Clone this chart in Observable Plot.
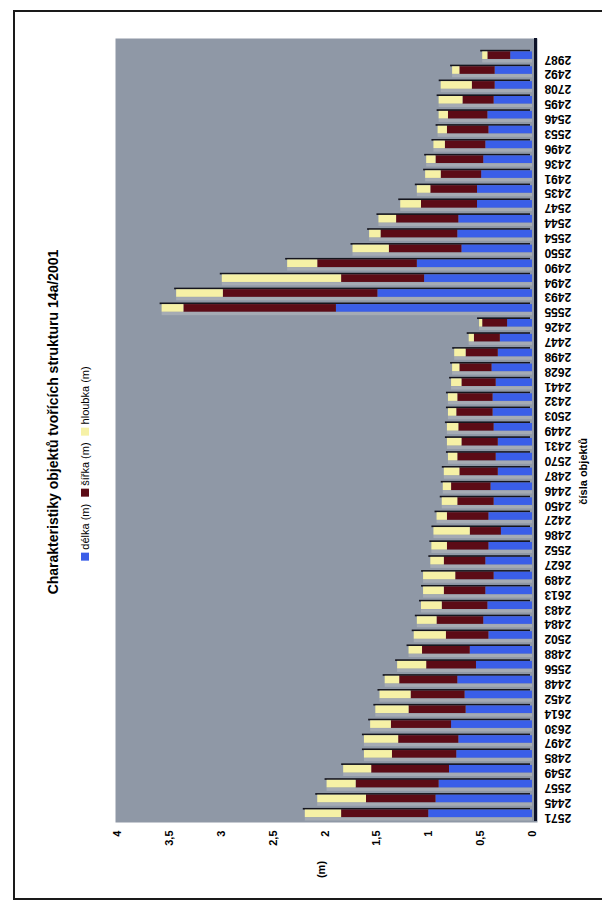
<!DOCTYPE html>
<html><head><meta charset="utf-8">
<script src="https://cdn.jsdelivr.net/npm/d3@7"></script>
<script src="https://cdn.jsdelivr.net/npm/@observablehq/plot@0.6"></script>
<style>
html,body{margin:0;padding:0;background:#fff;}
body{width:602px;height:902px;position:relative;overflow:hidden;font-family:"Liberation Sans",Arial,sans-serif;}
#border{position:absolute;left:13px;top:10px;width:640px;height:886px;border:2px solid #1a1a1a;border-right:none;}
#chart{position:absolute;left:0;top:0;}
.rot{position:absolute;transform:translate(-50%,-50%) rotate(-90deg);white-space:nowrap;color:#000;}
#title{left:53px;top:422px;font-size:14px;font-weight:bold;}
#legend{left:85px;top:460px;font-size:11px;display:flex;align-items:center;}
#legend .sw{display:inline-block;width:8px;height:8px;margin-right:3px;}
#legend .it{display:flex;align-items:center;margin-right:7px;}
</style>
</head><body>
<div id="border"></div>
<div id="chart"></div>
<div id="title" class="rot"></div>
<div id="legend" class="rot"></div>
<script>
const titleText = "Charakteristiky objektů tvořících strukturu 14a/2001";
const xLabel = "čísla objektů";
const yLabel = "(m)";
const seriesNames = ["délka (m)", "šířka (m)", "hloubka (m)"];
const seriesColors = ["#3a5ee8", "#5c0b16", "#f6f1a6"];
const valueTicks = [0, 0.5, 1, 1.5, 2, 2.5, 3, 3.5, 4];

const ids = ["2571","2445","2557","2549","2485","2497","2630","2614","2452","2448",
  "2556","2488","2502","2484","2483","2613","2489","2627","2552","2486",
  "2427","2450","2446","2487","2570","2431","2449","2503","2432","2441",
  "2628","2498","2447","2426","2555","2493","2494","2490","2550","2554",
  "2544","2547","2435","2491","2436","2496","2553","2546","2495","2708",
  "2492","2987"];
const delka = [1.00,0.93,0.90,0.80,0.73,0.71,0.78,0.64,0.65,0.72,
  0.54,0.60,0.42,0.47,0.43,0.45,0.37,0.45,0.42,0.30,
  0.42,0.37,0.40,0.33,0.35,0.33,0.37,0.38,0.38,0.35,
  0.39,0.33,0.31,0.24,1.89,1.49,1.04,1.11,0.68,0.72,
  0.71,0.53,0.53,0.49,0.47,0.45,0.42,0.43,0.37,0.36,
  0.36,0.21];
const sirka = [0.84,0.67,0.80,0.75,0.62,0.58,0.58,0.55,0.52,0.56,
  0.48,0.46,0.41,0.45,0.44,0.40,0.37,0.40,0.40,0.30,
  0.40,0.35,0.38,0.37,0.37,0.35,0.34,0.35,0.34,0.33,
  0.31,0.31,0.25,0.24,1.47,1.49,0.80,0.96,0.70,0.74,
  0.60,0.54,0.45,0.39,0.46,0.39,0.40,0.38,0.30,0.22,
  0.34,0.22];
const hloubka = [0.35,0.47,0.28,0.27,0.27,0.33,0.20,0.32,0.30,0.14,
  0.28,0.13,0.31,0.19,0.20,0.20,0.31,0.13,0.15,0.35,
  0.10,0.15,0.08,0.15,0.09,0.14,0.11,0.08,0.09,0.10,
  0.07,0.11,0.05,0.03,0.21,0.45,1.15,0.29,0.35,0.11,
  0.17,0.20,0.13,0.15,0.09,0.11,0.09,0.09,0.23,0.30,
  0.07,0.05];

const seriesArrays = [delka, sirka, hloubka];
const long = [];
ids.forEach((id, i) => seriesArrays.forEach((arr, s) => long.push({id, series: seriesNames[s], value: arr[i]})));
const totals = ids.map((id, i) => ({id, total: delka[i] + sirka[i] + hloubka[i]}));
const fmt = d => String(d).replace(".", ",");

const chart = Plot.plot({
  width: 602, height: 902,
  marginLeft: 117, marginRight: 70, marginTop: 48, marginBottom: 81,
  style: {fontFamily: "'Liberation Sans', Arial, sans-serif", background: "transparent", color: "#000"},
  x: {domain: [0, 4], reverse: true, axis: null},
  y: {domain: ids.slice().reverse(), padding: 0, axis: null},
  color: {domain: seriesNames, range: seriesColors},
  marks: [
    Plot.frame({fill: "#8f98a6", stroke: null, insetTop: -10, insetLeft: -2, insetRight: -5, insetBottom: -1}),
    Plot.barX(totals, {x1: 0, x2: "total", y: "id", fill: "#a5abb4", insetTop: 11.2, insetBottom: 0.4}),
    Plot.barX(totals, {x1: 0, x2: "total", y: "id", fill: "#15151d", insetTop: 1.8, insetBottom: 11.4, dx: -2}),
    Plot.barX(long, {x: "value", y: "id", fill: "series", insetTop: 3.4, insetBottom: 3.9}),
    Plot.ruleX([0], {stroke: "#0d1228", strokeWidth: 3, dx: 3, insetTop: -10}),
    Plot.axisX({ticks: valueTicks, tickFormat: fmt, tickSize: 0, tickRotate: -90, tickPadding: 9, fontSize: 11, fontWeight: "bold"}),
    Plot.text([yLabel], {x: [2], frameAnchor: "bottom", dy: 48, rotate: -90, fontSize: 11, fontWeight: "bold"}),
    Plot.text(ids, {y: d => d, frameAnchor: "right", dx: 12, dy: 3.5, rotate: 180, textAnchor: "end", fontSize: 12, fontWeight: "bold"}),
    Plot.text([xLabel], {frameAnchor: "right", dx: 51, dy: 3, rotate: -90, fontSize: 11, fontWeight: "bold"})
  ]
});
document.getElementById("chart").appendChild(chart);
document.getElementById("title").textContent = titleText;
const leg = document.getElementById("legend");
seriesNames.forEach((n, i) => {
  const it = document.createElement("span"); it.className = "it";
  const sw = document.createElement("span"); sw.className = "sw"; sw.style.background = seriesColors[i];
  it.appendChild(sw); it.appendChild(document.createTextNode(n)); leg.appendChild(it);
});
</script>
</body></html>
